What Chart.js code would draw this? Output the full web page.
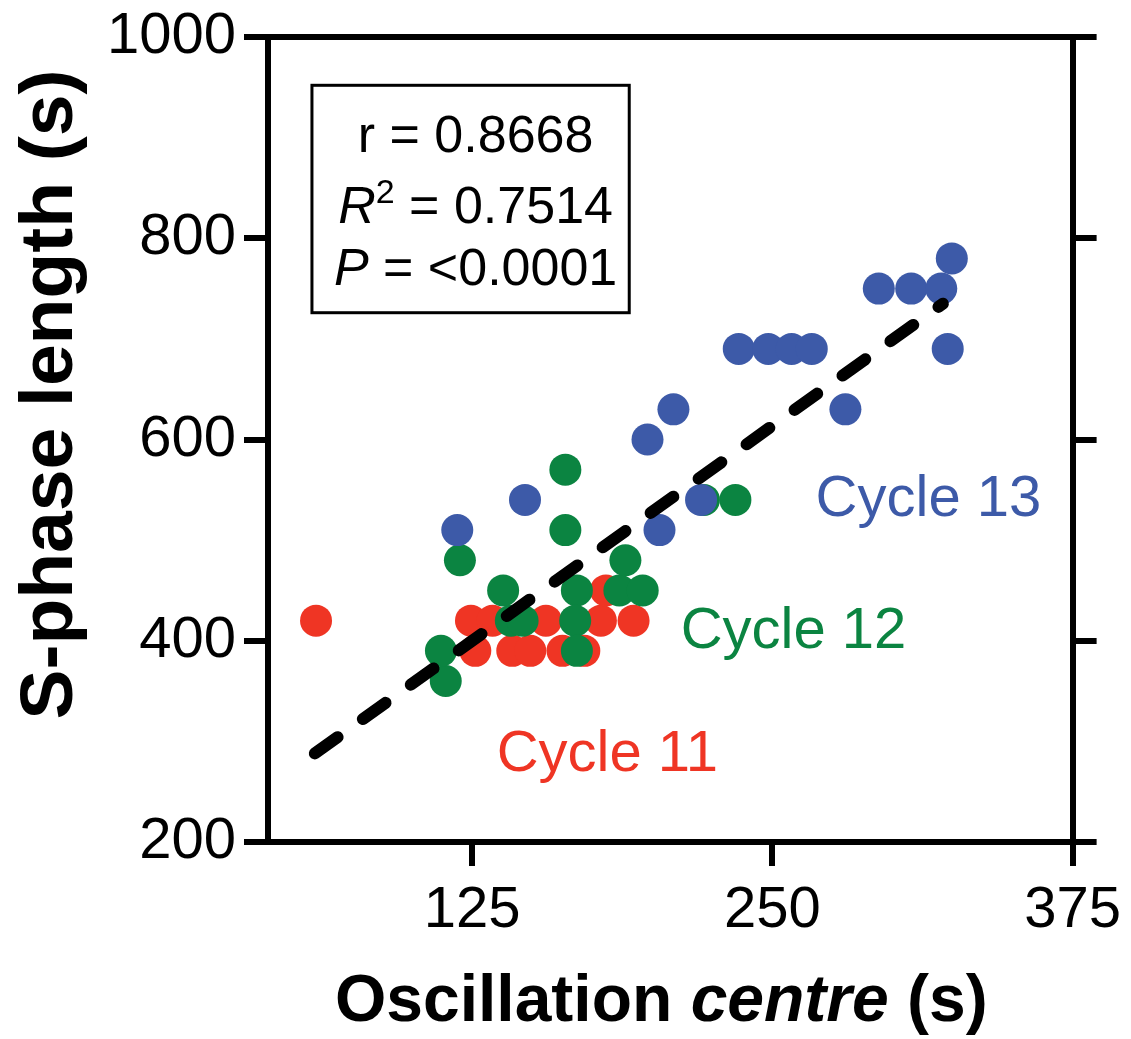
<!DOCTYPE html>
<html>
<head>
<meta charset="utf-8">
<script src="https://cdn.jsdelivr.net/npm/chart.js@4.4.1/dist/chart.umd.min.js"></script>
<style>
  html, body { margin: 0; padding: 0; background: #fff; }
</style>
</head>
<body>
<canvas id="chart" width="1131" height="1039"></canvas>
<script>
// Cycle 11 (red)
const c11X = [60, 124.5, 133.5, 155.7, 178.6, 192.2, 126.3, 141.7, 149.2, 162.6, 171.7, 180.7];
const c11Y = [420, 420, 420, 420, 420, 420, 390, 390, 390, 390, 390, 450];
// Cycle 12 (green)
const c12X = [114, 112, 119.9, 137.9, 141.1, 146, 163.8, 163.8, 168.6, 167.9, 168.6, 186.3, 196, 188.8, 234.6, 221.5];
const c12Y = [360, 390, 480, 450, 420, 420, 570, 510, 450, 420, 390, 450, 450, 480, 540, 540];
// Cycle 13 (blue)
const c13X = [118.8, 147, 198, 208.8, 203, 220.3, 236, 248.3, 258, 266.4, 280.4, 294.3, 307.8, 320.3, 323, 324.7];
const c13Y = [510, 540, 600, 630, 510, 540, 690, 690, 690, 690, 630, 750, 750, 750, 690, 780];
// regression line as drawn
const fitX = [59.5, 321];
const fitY = [288, 735];

const xTicks = [125, 250, 375];
const yTicks = [200, 400, 600, 800, 1000];
const statR = '0.8668';
const statR2 = '0.7514';
const statP = '<0.0001';

const RED = '#EF3524';
const GREEN = '#0B8441';
const BLUE = '#3D5AA8';
const FONT = '"Liberation Sans", Arial, Helvetica, sans-serif';

function toPoints(xs, ys) {
    return xs.map((x, i) => ({ x: x, y: ys[i] }));
}

function setTicks(values) {
    return function(scale) {
        scale.ticks = values.map(v => ({ value: v }));
    };
}

const overlay = {
    id: 'overlay',
    afterDraw(chart) {
        const ctx = chart.ctx;
        const xs = chart.scales.x;
        const ys = chart.scales.y;
        const area = chart.chartArea;
        ctx.save();

        // stats box
        const bx0 = xs.getPixelForValue(58.3), bx1 = xs.getPixelForValue(190.4);
        const by0 = ys.getPixelForValue(952), by1 = ys.getPixelForValue(726);
        ctx.strokeStyle = '#000';
        ctx.lineWidth = 3;
        ctx.strokeRect(bx0, by0, bx1 - bx0, by1 - by0);

        const cx = (bx0 + bx1) / 2 + 5;
        ctx.fillStyle = '#000';
        ctx.textBaseline = 'alphabetic';
        const fs = 52;
        const normal = fs + 'px ' + FONT;
        const ital = 'italic ' + fs + 'px ' + FONT;
        const sup = '34px ' + FONT;

        function drawRun(parts, baseY) {
            let total = 0;
            parts.forEach(p => { ctx.font = p.font; p.w = ctx.measureText(p.text).width; total += p.w; });
            let x = cx - total / 2;
            ctx.textAlign = 'left';
            parts.forEach(p => {
                ctx.font = p.font;
                ctx.fillText(p.text, x, baseY - (p.rise || 0));
                x += p.w;
            });
        }
        drawRun([{ text: 'r = ' + statR, font: normal }], by0 + 67);
        drawRun([{ text: 'R', font: ital }, { text: '2', font: sup, rise: 20 }, { text: ' = ' + statR2, font: normal }], by0 + 138);
        drawRun([{ text: 'P', font: ital }, { text: ' = ' + statP, font: normal }], by0 + 200);

        // cycle labels
        ctx.font = '58px ' + FONT;
        ctx.textAlign = 'left';
        ctx.fillStyle = BLUE;
        ctx.fillText('Cycle 13', xs.getPixelForValue(268), ys.getPixelForValue(524));
        ctx.fillStyle = GREEN;
        ctx.fillText('Cycle 12', xs.getPixelForValue(211.8), ys.getPixelForValue(392.8));
        ctx.fillStyle = RED;
        ctx.fillText('Cycle 11', xs.getPixelForValue(135.2), ys.getPixelForValue(270.6));

        // x title with italic "centre"
        ctx.fillStyle = '#000';
        const xParts = [
            { text: 'Oscillation ', font: 'bold 66px ' + FONT },
            { text: 'centre', font: 'italic bold 66px ' + FONT },
            { text: ' (s)', font: 'bold 66px ' + FONT }
        ];
        let tw = 0;
        xParts.forEach(p => { ctx.font = p.font; p.w = ctx.measureText(p.text).width; tw += p.w; });
        let tx = (area.left + area.right) / 2 - 9 - tw / 2;
        xParts.forEach(p => { ctx.font = p.font; ctx.fillText(p.text, tx, 1021); tx += p.w; });

        // y title
        ctx.translate(72, (area.top + area.bottom) / 2 - 45);
        ctx.rotate(-Math.PI / 2);
        ctx.textAlign = 'center';
        ctx.font = 'bold 75px ' + FONT;
        ctx.fillText('S-phase length (s)', 0, 0);

        ctx.restore();
    }
};

const axisGrid = { drawOnChartArea: false, drawTicks: true, tickLength: 24, tickWidth: 6, tickColor: '#000', color: '#000', lineWidth: 6 };
const axisBorder = { display: true, width: 6, color: '#000' };
const tickFont = { family: FONT, size: 58, lineHeight: 1 };
const plainLabel = v => String(v);

new Chart(document.getElementById('chart'), {
    type: 'scatter',
    data: {
        datasets: [
            {
                type: 'line',
                label: 'fit',
                data: toPoints(fitX, fitY),
                borderColor: '#000',
                borderWidth: 12,
                borderDash: [28, 31],
                borderCapStyle: 'round',
                pointRadius: 0,
                fill: false
            },
            { label: 'Cycle 13', data: toPoints(c13X, c13Y), backgroundColor: BLUE, pointRadius: 16, pointHoverRadius: 16, borderWidth: 0 },
            { label: 'Cycle 12', data: toPoints(c12X, c12Y), backgroundColor: GREEN, pointRadius: 16, pointHoverRadius: 16, borderWidth: 0 },
            { label: 'Cycle 11', data: toPoints(c11X, c11Y), backgroundColor: RED, pointRadius: 16, pointHoverRadius: 16, borderWidth: 0 }
        ]
    },
    options: {
        responsive: false,
        animation: false,
        layout: { padding: 0 },
        plugins: { legend: { display: false }, tooltip: { enabled: false } },
        scales: {
            x: {
                type: 'linear', position: 'bottom', min: 40, max: 375,
                afterBuildTicks: setTicks(xTicks),
                afterFit: function(scale) { scale.height = 197; },
                grid: axisGrid, border: axisBorder,
                ticks: { font: { family: FONT, size: 58 }, color: '#000', padding: 10, maxRotation: 0, autoSkip: false, callback: plainLabel }
            },
            x2: {
                type: 'linear', axis: 'x', position: 'top', min: 40, max: 375,
                afterFit: function(scale) { scale.height = 37; },
                grid: { display: true, drawOnChartArea: false, drawTicks: false },
                border: axisBorder,
                ticks: { display: false }
            },
            y: {
                type: 'linear', position: 'left', min: 200, max: 1000,
                afterBuildTicks: setTicks(yTicks),
                afterFit: function(scale) { scale.width = 268; },
                grid: axisGrid, border: axisBorder,
                ticks: { font: tickFont, color: '#000', padding: 8, autoSkip: false, callback: plainLabel }
            },
            y2: {
                type: 'linear', axis: 'y', position: 'right', min: 200, max: 1000,
                afterBuildTicks: setTicks(yTicks),
                afterFit: function(scale) { scale.width = 58; },
                grid: axisGrid, border: axisBorder,
                ticks: { display: false }
            }
        }
    },
    plugins: [overlay]
});
</script>
</body>
</html>
